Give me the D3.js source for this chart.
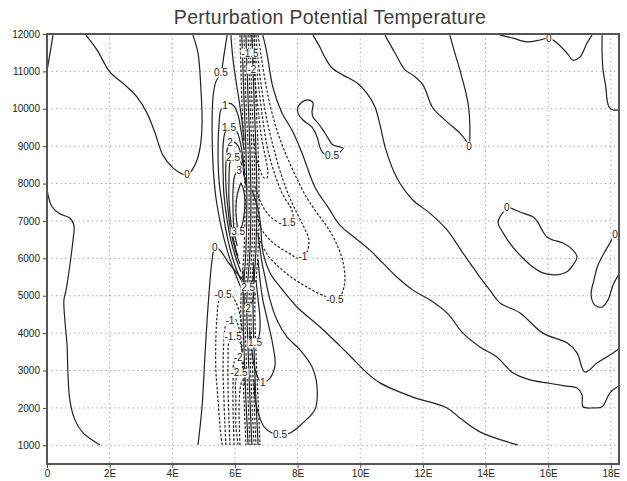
<!DOCTYPE html>
<html>
<head>
<meta charset="utf-8">
<script src="https://cdn.jsdelivr.net/npm/d3@7"></script>
<style>
  body { margin: 0; background: #fff; }
  text { font-family: "Liberation Sans", Arial, sans-serif; }
</style>
</head>
<body>
<svg id="chart" width="627" height="481"></svg>
<script>
const title = "Perturbation Potential Temperature"

// axis ticks
const xTicks = [0, 2, 4, 6, 8, 10, 12, 14, 16, 18]
const xTickLabels = ["0", "2E", "4E", "6E", "8E", "10E", "12E", "14E", "16E", "18E"]
const yTicks = [1000, 2000, 3000, 4000, 5000, 6000, 7000, 8000, 9000, 10000, 11000, 12000]

// contour lines: [level, [[lon, height], ...]]
const contourLines = [
  // far left
  [0, [[0.19,11970],[0.1,11500],[0,11010]]],
  [0, [[0,7830],[0.16,7380],[0.41,7190],[0.73,7080],[0.86,6890],[0.83,6490],[0.73,5820],[0.61,5150],[0.54,4890],[0.57,4350],[0.64,3680],[0.67,2880],[0.73,2210],[0.89,1680],[1.15,1330],[1.44,1140],[1.69,1010]]],
  [0, [[1.24,11970],[1.6,11570],[2.01,10980],[2.46,10660],[2.87,10320],[3.19,9890],[3.45,9350],[3.7,8760],[4.02,8420],[4.31,8260],[4.47,8230],[4.63,8360],[4.79,8630],[4.91,9090],[4.95,9700],[4.91,10580],[4.82,11490],[4.66,11970]]],
  // right side
  [0, [[10.79,11970],[11.11,11490],[11.43,11040],[11.68,10900],[12.0,10640],[12.32,10020],[12.77,9650],[13.18,9350],[13.41,9110],[13.47,9000],[13.5,9430],[13.44,10150],[13.18,11040],[13.02,11490],[12.86,11970]]],
  [0, [[14.46,11970],[14.87,11890],[15.32,11790],[15.74,11840],[16.02,11890],[16.28,11760],[16.6,11490],[16.79,11300],[17.01,11380],[17.24,11760],[17.4,11970]]],
  [0, [[17.72,11970],[17.72,11490],[17.75,11040],[17.84,10580],[17.88,10240],[17.94,10050],[18.07,9970],[18.26,9970]]],
  [0, [[18.26,6460],[18.13,6630],[17.97,6410],[17.75,6090],[17.59,5820],[17.46,5420],[17.37,5020],[17.49,4750],[17.72,4700],[17.91,4890],[18.07,5290],[18.26,5580]]],
  [0, [[14.68,7350],[14.46,7110],[14.4,6950],[14.56,6680],[14.87,6300],[15.19,6010],[15.51,5770],[15.83,5610],[16.28,5560],[16.6,5640],[16.79,5820],[16.92,6040],[16.79,6220],[16.47,6410],[16.15,6490],[15.96,6570],[15.8,6760],[15.67,6970],[15.51,7110],[15.1,7240],[14.78,7350],[14.68,7350]]],
  [0.5, [[8.14,10180],[8.33,10240],[8.49,10160],[8.46,9920],[8.49,9780],[8.65,9620],[8.81,9430],[8.97,9220],[9.13,9030],[9.35,8980],[9.45,8950],[9.35,8840],[9.1,8760],[8.81,8820],[8.71,8980],[8.62,9250],[8.46,9510],[8.17,9700],[8.01,9890],[8.01,10050],[8.14,10180]]],
  [0, [[8.49,11970],[8.71,11650],[8.87,11380],[9.1,11090],[9.45,10900],[9.9,10690],[10.21,10420],[10.47,10050],[10.63,9570],[10.82,8900],[11.17,8150],[11.68,7560],[12.22,7210],[12.77,6760],[13.28,6140],[13.82,5500],[14.14,5150],[14.46,4810],[15.1,4540],[15.83,4000],[16.6,3740],[16.92,3470],[17.17,2960],[17.56,3200],[18.07,3470],[18.26,3580]]],
  [0, [[6.89,11970],[7.02,11490],[7.21,10580],[7.5,9890],[7.82,9430],[8.14,8820],[8.55,7910],[8.97,7370],[9.35,6890],[9.83,6550],[10.31,6220],[10.69,5900],[11.17,5500],[11.68,5150],[12.22,4890],[12.77,4540],[13.28,4000],[13.82,3630],[14.36,3360],[14.87,2940],[15.42,2750],[15.96,2670],[16.53,2590],[16.92,2530],[17.08,2350],[17.11,2030],[17.43,2000],[17.72,2030],[17.97,2400],[18.26,2590]]],
  [0, [[6.54,7830],[6.7,7430],[6.8,7030],[6.9,6140],[7.12,5610],[7.44,5240],[7.98,4700],[8.71,4170],[9.58,3470],[10.21,2940],[10.63,2670],[11.68,2290],[12.77,2000],[13.18,1730],[13.82,1360],[15.03,1010]]],
  // dense front
  [-3, [[6.16,11970],[6.22,10240],[6.29,8900],[6.32,7560],[6.29,6220],[6.19,4890],[6.22,3550],[6.29,2210],[6.35,1010]]],
  [4, [[6.22,11970],[6.29,10240],[6.35,8900],[6.38,7560],[6.35,6220],[6.26,4890],[6.29,3550],[6.35,2210],[6.42,1010]]],
  [-3.5, [[6.29,11970],[6.35,10240],[6.42,8900],[6.45,7560],[6.42,6220],[6.32,4890],[6.35,3550],[6.42,2210],[6.48,1010]]],
  [4.5, [[6.35,11970],[6.42,10240],[6.48,8900],[6.51,7560],[6.48,6220],[6.38,4890],[6.42,3550],[6.48,2210],[6.54,1010]]],
  [-4, [[6.42,11970],[6.48,10240],[6.54,8900],[6.58,7560],[6.54,6220],[6.45,4890],[6.48,3550],[6.54,2210],[6.61,1010]]],
  [-3.5, [[6.48,11970],[6.54,10240],[6.61,8900],[6.64,7560],[6.61,6220],[6.51,4890],[6.54,3550],[6.61,2210],[6.67,1010]]],
  [4, [[6.54,11970],[6.61,10240],[6.67,8900],[6.7,7560],[6.67,6220],[6.58,4890],[6.61,3550],[6.67,2210],[6.74,1010]]],
  [-3, [[6.61,11970],[6.67,10240],[6.74,8900],[6.77,7560],[6.74,6220],[6.64,4890],[6.67,3550],[6.74,2210],[6.8,1010]]],
  // warm lobe, upper left
  [0.5, [[5.75,11970],[5.65,11440],[5.55,10960],[5.39,10720],[5.3,10320],[5.27,9430],[5.3,8500],[5.39,7640],[5.55,6890],[5.75,6220],[5.94,5740],[6.13,5340],[6.29,5020]]],
  [0.5, [[5.87,11970],[5.94,11300],[6.03,10770],[6.13,10240],[6.22,9700],[6.29,9170]]],
  [1, [[6.29,8900],[6.19,9430],[6.1,9830],[5.97,10070],[5.81,10150],[5.68,10100],[5.55,9970],[5.49,9570],[5.46,8900],[5.49,8100],[5.59,7430],[5.71,6760],[5.87,6170],[6.03,5740],[6.19,5420]]],
  [1.5, [[6.29,8500],[6.19,9030],[6.07,9380],[5.94,9510],[5.81,9510],[5.68,9350],[5.62,9030],[5.62,8360],[5.65,7690],[5.75,7030],[5.87,6490],[6.03,6010],[6.19,5640]]],
  [2, [[6.32,8230],[6.22,8680],[6.1,9010],[5.97,9110],[5.84,9090],[5.75,8900],[5.71,8500],[5.71,7960],[5.78,7290],[5.87,6710],[6.03,6170],[6.16,5850]]],
  [2.5, [[6.35,7960],[6.26,8360],[6.16,8630],[6.03,8740],[5.94,8710],[5.84,8550],[5.81,8100],[5.81,7560],[5.87,6970],[5.97,6440],[6.1,6060]]],
  [3, [[6.38,7830],[6.32,8150],[6.22,8340],[6.13,8360],[6.0,8230],[5.94,7830],[5.94,7290],[5.97,6760],[6.07,6330]]],
  [3.5, [[6.19,8020],[6.07,7690],[6.03,7290],[6.07,6890],[6.1,6710],[6.19,6790],[6.29,7160],[6.32,7560],[6.26,7880],[6.19,8020]]],
  // zero line and cold lobe, lower left
  [0, [[4.82,1010],[4.95,2030],[5.04,3360],[5.14,4700],[5.27,5960],[5.36,6300],[5.52,6220],[5.78,5900],[6.03,5640],[6.26,5420]]],
  [-0.5, [[5.59,1010],[5.52,1540],[5.46,2210],[5.39,3020],[5.39,3820],[5.43,4490],[5.49,4890],[5.62,5020],[5.75,5100],[5.91,4990],[6.07,4750],[6.19,4350],[6.26,3820]]],
  [-1, [[5.71,1010],[5.68,1540],[5.65,2210],[5.62,3020],[5.65,3820],[5.71,4220],[5.84,4350],[5.97,4410],[6.1,4220],[6.19,3820],[6.26,3280]]],
  [-1.5, [[5.84,1010],[5.81,1680],[5.78,2480],[5.78,3280],[5.81,3760],[5.94,3900],[6.07,3920],[6.19,3680],[6.26,3230]]],
  [-2, [[5.97,1010],[5.94,1950],[5.94,2750],[5.97,3230],[6.1,3360],[6.19,3390],[6.29,3070]]],
  [-2.5, [[6.1,1010],[6.03,1540],[6.03,2210],[6.03,2750],[6.13,2940],[6.22,2940],[6.32,2610]]],
  [-3, [[6.16,1010],[6.13,1950],[6.16,2480],[6.22,2750]]],
  // warm lobe, lower right
  [0.5, [[6.74,6630],[6.86,5900],[6.96,5500],[7.12,4890],[7.34,4350],[7.66,3900],[8.08,3550],[8.46,3100],[8.62,2560],[8.55,1950],[8.17,1600],[7.76,1330],[7.44,1280],[7.18,1330],[6.93,1490],[6.74,1870],[6.64,2270],[6.61,2750]]],
  [1, [[6.74,5960],[6.8,5420],[6.89,4890],[7.05,4300],[7.21,3680],[7.28,3150],[7.12,2800],[6.89,2670],[6.74,2800],[6.61,3150],[6.54,3550]]],
  [1.5, [[6.67,5420],[6.74,4890],[6.8,4350],[6.77,3920],[6.64,3740],[6.51,3820],[6.48,4080]]],
  [2, [[6.61,5560],[6.61,5100],[6.54,4810],[6.42,4670],[6.32,4750],[6.29,5020]]],
  [2.5, [[6.58,5900],[6.58,5480],[6.42,5230],[6.29,5370],[6.26,5690]]],
  // cold lobe, upper right
  [-2, [[6.54,11970],[6.58,11440],[6.64,10770],[6.74,9970],[6.86,9170],[6.99,8630],[7.05,8310],[7.02,8150],[6.93,8150],[6.8,8360],[6.67,8760],[6.58,9300]]],
  [-1.5, [[6.61,11970],[6.67,11300],[6.77,10500],[6.89,9700],[7.05,8900],[7.28,8230],[7.53,7700],[7.79,7340],[7.85,7110],[7.66,6970],[7.44,6950],[7.18,7080],[6.96,7290],[6.77,7610],[6.64,7960]]],
  [-1, [[6.67,11970],[6.74,11300],[6.86,10500],[7.02,9700],[7.25,8900],[7.53,8100],[7.85,7430],[8.17,6890],[8.36,6490],[8.3,6170],[8.17,6040],[7.98,6010],[7.76,6120],[7.44,6280],[7.12,6490],[6.86,6760],[6.7,7160]]],
  [-0.5, [[6.74,11970],[6.83,11440],[6.96,10770],[7.12,10100],[7.34,9430],[7.6,8840],[7.92,8230],[8.3,7610],[8.65,7180],[8.97,6810],[9.26,6360],[9.45,5900],[9.51,5420],[9.42,5070],[9.26,4890],[9.03,4940],[8.65,5070],[8.24,5260],[7.82,5480],[7.44,5740],[7.12,6010],[6.86,6360],[6.7,6760]]]
]

// contour labels: [lon, height, text]
const contourLabels = [
  [5.55,10960,"0.5"], [5.68,10100,"1"], [5.81,9510,"1.5"], [5.84,9090,"2"], [5.94,8710,"2.5"],
  [6.13,8360,"3"], [6.1,6710,"3.5"], [4.47,8230,"0"], [6.48,11490,"-1.5"], [6.54,11060,"-2"],
  [7.66,6970,"-1.5"], [8.17,6040,"-1"], [9.19,4890,"-0.5"], [9.1,8760,"0.5"], [13.47,9000,"0"],
  [16.02,11890,"0"], [14.68,7350,"0"], [18.13,6630,"0"], [5.36,6300,"0"], [5.62,5020,"-0.5"],
  [5.84,4350,"-1"], [5.94,3900,"-1.5"], [6.1,3360,"-2"], [6.13,2940,"-2.5"], [6.42,5230,"2.5"],
  [6.42,4670,"2"], [6.64,3740,"1.5"], [6.89,2670,"1"], [7.44,1280,"0.5"]
]

const width = 627
const height = 481
const margin = {top: 34, right: 8, bottom: 17, left: 47}

const x = d3.scaleLinear()
  .domain([0, 18.26])
  .range([margin.left, width - margin.right])

const y = d3.scaleLinear()
  .domain([500, 12000])
  .range([height - margin.bottom, margin.top])

const svg = d3.select("#chart")

svg.append("text") //title
  .attr("x", 330)
  .attr("y", 24)
  .attr("text-anchor", "middle")
  .attr("font-size", 19.5)
  .attr("letter-spacing", 0.3)
  .attr("fill", "#3c3c3c")
  .text(title)

svg.append("defs").append("clipPath")
  .attr("id", "plot")
  .append("rect")
  .attr("x", x(0)).attr("y", y(12000))
  .attr("width", x(18.26) - x(0)).attr("height", y(500) - y(12000))

// dotted grid
const grid = svg.append("g")
  .attr("stroke", "#9a9a9a")
  .attr("stroke-width", 1)
  .attr("stroke-dasharray", "1.2,3.3")

grid.selectAll(".gx")
  .data(xTicks.filter(d => d > 0))
  .join("line")
  .attr("x1", d => x(d)).attr("x2", d => x(d))
  .attr("y1", y(12000)).attr("y2", y(500))

grid.selectAll(".gy")
  .data(yTicks.filter(d => d < 12000))
  .join("line")
  .attr("y1", d => y(d)).attr("y2", d => y(d))
  .attr("x1", x(0)).attr("x2", x(18.26))

// contours
const line = d3.line()
  .x(d => x(d[0]))
  .y(d => y(d[1]))
  .curve(d3.curveCatmullRom.alpha(0.5))

svg.append("g")
  .attr("clip-path", "url(#plot)")
  .attr("fill", "none")
  .attr("stroke", "#222")
  .attr("stroke-width", 1.2)
  .selectAll("path")
  .data(contourLines)
  .join("path")
  .attr("stroke-dasharray", d => d[0] < 0 ? "2.5,1.8" : null)
  .attr("d", d => line(d[1]))

// labels with blanked background
const lab = svg.append("g")
  .selectAll("g")
  .data(contourLabels)
  .join("g")
  .attr("transform", d => `translate(${x(d[0])},${y(d[1])})`)

lab.append("rect")
  .attr("fill", "#fff")

lab.append("text")
  .attr("text-anchor", "middle")
  .attr("dy", "0.35em")
  .attr("font-size", 10)
  .attr("fill", "#222")
  .text(d => d[2])

lab.each(function() {
  const b = d3.select(this).select("text").node().getBBox()
  d3.select(this).select("rect")
    .attr("x", b.x - 0.5).attr("y", b.y + 1)
    .attr("width", b.width + 1).attr("height", b.height - 2)
})

// axes
const xAxis = svg.append("g")
  .attr("transform", `translate(0,${y(500)})`)
  .call(d3.axisBottom(x).tickValues(xTicks).tickFormat((d, i) => xTickLabels[i]).tickSize(4).tickPadding(2))

const yAxis = svg.append("g")
  .attr("transform", `translate(${x(0)},0)`)
  .call(d3.axisLeft(y).tickValues(yTicks).tickSize(4).tickPadding(3).tickFormat(d3.format("d")))

for (const ax of [xAxis, yAxis]) {
  ax.select(".domain").remove()
  ax.selectAll("line").attr("stroke", "#444")
  ax.selectAll("text")
    .attr("font-size", 10)
    .attr("font-family", "'Liberation Sans', Arial, sans-serif")
    .attr("fill", "#222")
}

// frame
svg.append("rect")
  .attr("x", x(0)).attr("y", y(12000))
  .attr("width", x(18.26) - x(0)).attr("height", y(500) - y(12000))
  .attr("fill", "none")
  .attr("stroke", "#555")
  .attr("stroke-width", 2)
</script>
</body>
</html>
